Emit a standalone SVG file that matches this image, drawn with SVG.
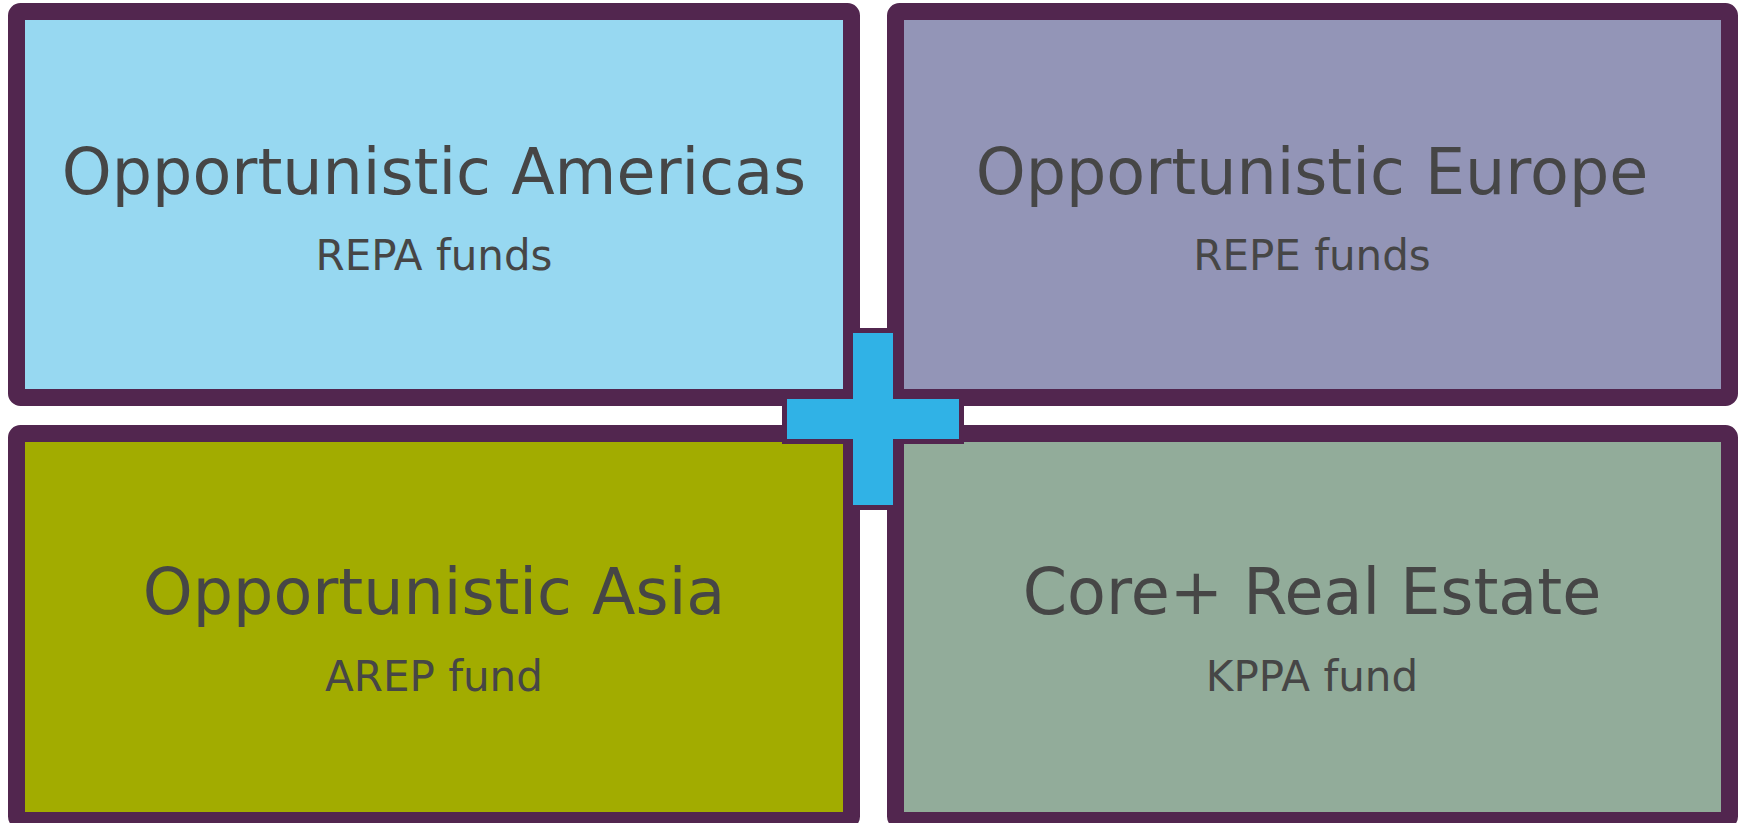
<svg xmlns="http://www.w3.org/2000/svg" width="1741" height="823" viewBox="0 0 1741 823">
<style>
.box{stroke:#52264F;stroke-width:17;stroke-linejoin:round}
.t{font-family:"DejaVu Sans",Verdana,sans-serif;fill:#464646;text-anchor:middle}
.h{font-size:63.5px}
.s{font-size:42px}
</style>
<rect width="1741" height="823" fill="#FFFFFF"/>
<g id="americas">
<rect class="box" x="16.5" y="11.5" width="835" height="386" rx="4" fill="#97D8F1"/>
<text class="t h" x="434" y="194">Opportunistic Americas</text>
<text class="t s" x="434" y="270">REPA funds</text>
</g>
<g id="europe">
<rect class="box" x="895.5" y="11.5" width="834" height="386" rx="4" fill="#9395B7"/>
<text class="t h" x="1312" y="194">Opportunistic Europe</text>
<text class="t s" x="1312" y="270">REPE funds</text>
</g>
<g id="asia">
<rect class="box" x="16.5" y="433.5" width="835" height="387" rx="4" fill="#A2AC00"/>
<text class="t h" x="434" y="614">Opportunistic Asia</text>
<text class="t s" x="434" y="691">AREP fund</text>
</g>
<g id="core">
<rect class="box" x="895.5" y="433.5" width="834" height="387" rx="4" fill="#92AC9A"/>
<text class="t h" x="1312" y="614">Core+ Real Estate</text>
<text class="t s" x="1312" y="691">KPPA fund</text>
</g>
<g id="plus">
<path d="M850.5 330.5 H895.5 V396.5 H961.5 V441.5 H895.5 V507.5 H850.5 V441.5 H784.5 V396.5 H850.5 Z" fill="#30B2E6" stroke="#52264F" stroke-width="5"/>
</g>
</svg>
